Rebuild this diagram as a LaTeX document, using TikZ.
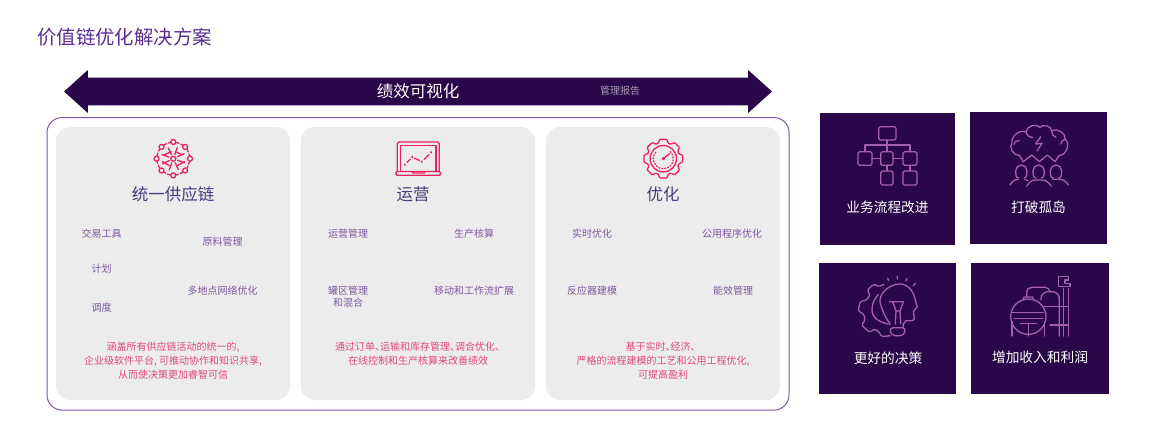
\documentclass[tikz,border=0pt]{standalone}
\usepackage{fontspec}
\setmainfont{Noto Sans CJK SC}
\usetikzlibrary{shapes.arrows}
\definecolor{deep}{HTML}{2A0748}
\definecolor{ruby}{HTML}{E9215F}
\definecolor{lilac}{HTML}{A45FB2}
\definecolor{plum}{HTML}{5B2C92}
\definecolor{ink}{HTML}{4A3A7A}
\definecolor{itemc}{HTML}{7E579F}
\definecolor{rose}{HTML}{E0487C}
\definecolor{panelc}{HTML}{ECECEC}
\newcommand{\dunh}{、\kern-.5em}
\begin{document}
\begin{tikzpicture}[
		x=1pt, y=-1pt,
		frame/.style={rectangle, draw=plum!80!white, line width=1pt, rounded corners=15pt, minimum width=742pt, minimum height=292.5pt, inner sep=0pt},
		panel/.style={rectangle, fill=panelc, rounded corners=14pt, minimum width=234pt, minimum height=273pt, inner sep=0pt},
		tile/.style={rectangle, fill=deep, inner sep=0pt},
		band/.style={double arrow, fill=deep, inner xsep=0pt, inner ysep=13.75pt, minimum height=708pt, minimum width=42.5pt, double arrow head extend=7.5pt, double arrow tip angle=84},
		headtxt/.style={text=ink, font=\fontsize{16.5}{20}\selectfont},
		itemtxt/.style={text=itemc, align=center, font=\fontsize{10}{12}\selectfont},
		desctxt/.style={text=rose, align=center, font=\fontsize{10}{14}\selectfont},
		tiletxt/.style={text=white, font=\fontsize{13.7}{16}\selectfont},
		pinkicon/.style={draw=ruby, line width=1.3pt, line cap=round, line join=round},
		lilacicon/.style={draw=lilac, line width=1.3pt, line cap=round, line join=round}
		]
		
		\useasboundingbox (0,0) rectangle (1150,432);
		
		\node[anchor=west, text=plum, font=\fontsize{19.4}{22}\selectfont] (title) at (33.7,37) {价值链优化解决方案};
		
		\node[band] (band) at (418,91.5) {};
		\node[text=white, font=\fontsize{16.5}{20}\selectfont] (bandtxt) at (418,91) {绩效可视化};
		\node[text=deep!40!white, font=\fontsize{10}{12}\selectfont] (report) at (620,91) {管理报告};
		
		\node[frame] (frame) at (418,263.8) {};
		\node[panel] (chain) at (173,263.5) {};
		\node[panel] (oper) at (418,263.5) {};
		\node[panel] (optim) at (663,263.5) {};
		
		\node[headtxt] (chainh) at (173,194) {统一供应链};
		\node[headtxt] (operh) at (413,194) {运营};
		\node[headtxt] (optimh) at (663,194) {优化};
		
		\node[itemtxt] (i1) at (101.5,234) {交易工具};
		\node[itemtxt] (i2) at (222.5,242) {原料管理};
		\node[itemtxt] (i3) at (101.5,269) {计划};
		\node[itemtxt] (i4) at (222.5,291) {多地点网络优化};
		\node[itemtxt] (i5) at (101.5,308) {调度};
		\node[itemtxt] (i6) at (348,234) {运营管理};
		\node[itemtxt] (i7) at (474,234) {生产核算};
		\node[itemtxt] (i8) at (348,297) {罐区管理\\和混合};
		\node[itemtxt] (i9) at (474,291) {移动和工作流扩展};
		\node[itemtxt] (i10) at (592,234) {实时优化};
		\node[itemtxt] (i11) at (732,234) {公用程序优化};
		\node[itemtxt] (i12) at (592,291) {反应器建模};
		\node[itemtxt] (i13) at (733,291) {能效管理};
		
		\node[desctxt] (d1) at (173,361) {涵盖所有供应链活动的统一的,\\企业级软件平台, 可推动协作和知识共享,\\从而使决策更加睿智可信};
		\node[desctxt] (d2) at (418,354) {\hspace*{4pt}通过订单\dunh 运输和库存管理\dunh 调合优化、\\在线控制和生产核算来改善绩效};
		\node[desctxt] (d3) at (663,361) {基于实时\dunh 经济、\\严格的流程建模的工艺和公用工程优化,\\可提高盈利};
		
		\node[tile, minimum width=135.5pt, minimum height=132pt] (t1) at (887.7,179) {};
		\node[tile, minimum width=137pt, minimum height=132pt] (t2) at (1038.5,178) {};
		\node[tile, minimum width=137pt, minimum height=131pt] (t3) at (887.5,328.5) {};
		\node[tile, minimum width=138pt, minimum height=131pt] (t4) at (1040,328.5) {};
		\node[tiletxt] (t1txt) at (887.5,207.5) {业务流程改进};
		\node[tiletxt] (t2txt) at (1038.5,207.5) {打破孤岛};
		\node[tiletxt] (t3txt) at (888,358) {更好的决策};
		\node[tiletxt] (t4txt) at (1040,357.5) {增加收入和利润};
		
		% network
		\begin{scope}[shift={(173.3,158.7)}, pinkicon]
			\draw (0,0) circle (2.5);
			\foreach \a in {0,45,...,315} {
				\draw (\a:16.7) circle (2.5);
				\draw[dash pattern=on 3pt off 2pt] (\a+10:16.5) arc (\a+10:\a+35:16.5);
				\draw (\a+20:4.5) -- (\a+20:12);
			}
			\draw (-9,-4) -- (-2,-7) (9,-4) -- (2,-7) (-11,3) -- (-4,7) (11,3) -- (4,7);
		\end{scope}
		
		% laptop
		\begin{scope}[pinkicon]
			\draw[rounded corners=1.5pt] (397.3,171.5) -- (397.3,142) -- (439.3,142) -- (439.3,171.5);
			\draw (400.7,171.5) -- (400.7,145.3) -- (436,145.3) -- (436,171.5);
			\draw[rounded corners=1.5pt] (395.7,171.5) rectangle (440.7,175.3);
			\draw (411.7,171.5) -- (413,173) -- (424,173) -- (425,171.5);
			\fill[ruby] (405,164.7) circle (1.2) (412.3,157) circle (1.2) (421.7,161.7) circle (1.2) (431,152.3) circle (1.2);
			\draw (407,162.5) -- (410.5,159) (414.5,158.2) -- (419.5,160.5) (424,159.5) -- (429,154.5);
		\end{scope}
		
		% gauge
		\begin{scope}[shift={(663.3,158.7)}, pinkicon]
			\draw[rounded corners=1pt] (-11:19.7) -- (11:19.7) -- (17:16.3) -- (28:16.3)
				\foreach \a in {45,90,...,315} { -- (\a-11:19.7) -- (\a+11:19.7) -- (\a+17:16.3) -- (\a+28:16.3) } -- cycle;
			\draw (0,0) circle (13.2);
			\draw[dash pattern=on 1pt off 2pt] (-45:10) arc (-45:225:10);
			\draw (0,0) circle (1);
			\draw (1,-1) -- (6.5,-5);
		\end{scope}
		
		% flow chart
		\begin{scope}[lilacicon, rounded corners=1.5pt]
			\draw (878.7,126.7) rectangle (896,140);
			\draw (858,151.7) rectangle (872,165.3);
			\draw (880.7,151.7) rectangle (893,165.3);
			\draw (903,151.7) rectangle (917,165.3);
			\draw (880.7,171) rectangle (893,185);
			\draw (903,171) rectangle (917,185);
		\end{scope}
		\draw[lilacicon] (887,140) -- (887,151.7) (865,151.7) -- (865,145) -- (910,145) -- (910,151.7)
			(872,158.5) -- (880.7,158.5) (893,158.5) -- (903,158.5) (887,165.3) -- (887,171) (910,165.3) -- (910,171);
		
		% brain
		\begin{scope}[shift={(810,100)}, scale=1/3, lilacicon]
			\draw (628,166) to[bend left=70] (606,128) to[bend left=60] (648,96) to[bend left=70] (690,82)
				to[bend left=70] (725,92) to[bend left=60] (766,118) to[bend left=75] (748,166)
				-- (735,185) -- (712,165) -- (688,185) -- (665,165) -- (640,185) -- cycle;
			\draw (612,133) to[bend left=50] (628,122) (648,96) to[bend right=40] (668,112)
				(725,92) to[bend right=40] (738,112) (766,118) to[bend right=40] (752,132);
			\draw (692,110) -- (677,132) -- (696,130) -- (681,153);
			\foreach \hx in {634,686,738} {
				\draw (\hx-8,234) to[out=180,in=-90] (\hx-17,212) to[out=90,in=180] (\hx,195) to[out=0,in=90] (\hx+17,212) to[out=-90,in=0] (\hx+8,234);
			}
			\draw (600,255) to[out=60,in=180] (624,238) (644,238) to[out=0,in=150] (654,243)
				(650,258) to[out=50,in=180] (676,240) -- (696,240) to[out=0,in=130] (724,258)
				(728,238) -- (748,238) to[out=0,in=120] (775,255);
		\end{scope}
		
		% bulb and gear
		\begin{scope}[shift={(810,255)}, scale=1/3, lilacicon]
			\draw[rounded corners=1.5pt] (222,88) -- (205,95) -- (192,87) -- (172,105) -- (180,120) -- (170,135) -- (150,140) -- (145,168) -- (162,178) -- (165,195) -- (155,210) -- (178,232) -- (195,222) -- (208,232) -- (215,245) -- (240,242);
			\draw (240,205) to[out=130,in=-70] (212,150) to[out=110,in=180] (270,87) to[out=0,in=100] (317,140) -- (322,155) -- (310,170) -- (313,190) to[out=-100,in=0] (288,197) -- (280,207) -- (280,218);
			\draw (205,118) to[out=-130,in=90] (186,165) to[out=-90,in=170] (240,208);
			\draw (238,140) -- (280,140) -- (270,168) -- (272,207) (248,140) -- (258,168) -- (256,207) (258,168) -- (270,168);
			\draw[rounded corners=4pt] (238,218) -- (288,218) -- (282,242) -- (244,242) -- cycle;
			\draw (262,64) -- (262,72) (233,70) -- (236,77) (291,70) -- (288,78) (316,85) -- (310,92);
		\end{scope}
		
		% vessels
		\begin{scope}[shift={(810,255)}, scale=1/3, lilacicon]
			\draw (655,185) circle (53);
			\draw (640,133) -- (642,126) -- (668,126) -- (670,133);
			\draw (605,172) -- (700,172) (612,190) -- (698,190);
			\draw (630,205) -- (680,205) (655,205) -- (655,243) (606,200) -- (606,243) (703,200) -- (703,243);
			\draw (650,126) -- (650,110) to[out=90,in=180] (665,97) -- (705,97) to[out=0,in=90] (720,110);
			\draw (693,135) -- (693,130) to[out=90,in=180] (715,110) -- (725,110) to[out=0,in=90] (748,130) -- (748,243);
			\draw (700,155) -- (772,155) (720,210) -- (772,210);
			\draw (760,100) -- (760,243) (776,100) -- (776,243);
			\draw (745,95) -- (745,65) -- (775,65) -- (775,75) -- (765,75) -- (765,85) -- (780,85) -- (780,95) -- cycle;
		\end{scope}
		
	\end{tikzpicture}
\end{document}
